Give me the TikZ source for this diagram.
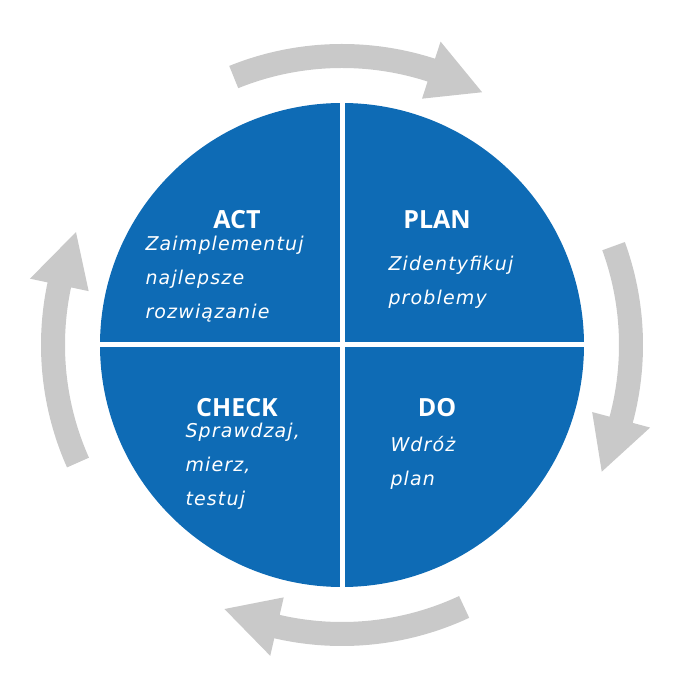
\documentclass[tikz,border=0pt]{standalone}
\usepackage{fontspec}
\setmainfont{Open Sans}
\newfontfamily\hand[LetterSpace=6]{DejaVu Sans}
\definecolor{pdblue}{HTML}{0E6BB5}
\definecolor{pdgray}{HTML}{C9C9C9}
\begin{document}
\begin{tikzpicture}[x=1pt,y=1pt,
  ttl/.style={font=\fontsize{25}{28}\selectfont\bfseries,text=white},
  hnd/.style={font=\hand\itshape\fontsize{19}{34}\selectfont,text=white,align=left,anchor=north west}]
\useasboundingbox (-342,-334) rectangle (356,345);
\def\R{289}
\foreach \a/\b in {112/72, 20/-15, -65/-103, 204/168}{
  \fill[pdgray] (\a:\R-12) arc[start angle=\a,end angle=\b,radius=\R-12]
     -- (\b:\R-30) -- (\b-11:\R) -- (\b:\R+30) -- (\b:\R+12)
     arc[start angle=\b,end angle=\a,radius=\R+12] -- cycle;
}
\fill[pdblue] (0,0) circle[radius=242];
\draw[white,line width=5] (-250,0) -- (250,0) (0,-250) -- (0,250);
\node[ttl] (act) at (-105,125) {ACT};
\node[ttl] (plan) at (95,125) {PLAN};
\node[ttl] (check) at (-105,-63) {CHECK};
\node[ttl] (do) at (95,-63) {DO};
\node[hnd] (tact) at (-200,112) {Zaimplementuj\\najlepsze\\rozwiązanie};
\node[hnd] (tplan) at (43,92) {Zidentyfikuj\\problemy};
\node[hnd] (tcheck) at (-160,-75) {Sprawdzaj,\\mierz,\\testuj};
\node[hnd] (tdo) at (45,-88) {Wdróż\\plan};
\end{tikzpicture}
\end{document}
